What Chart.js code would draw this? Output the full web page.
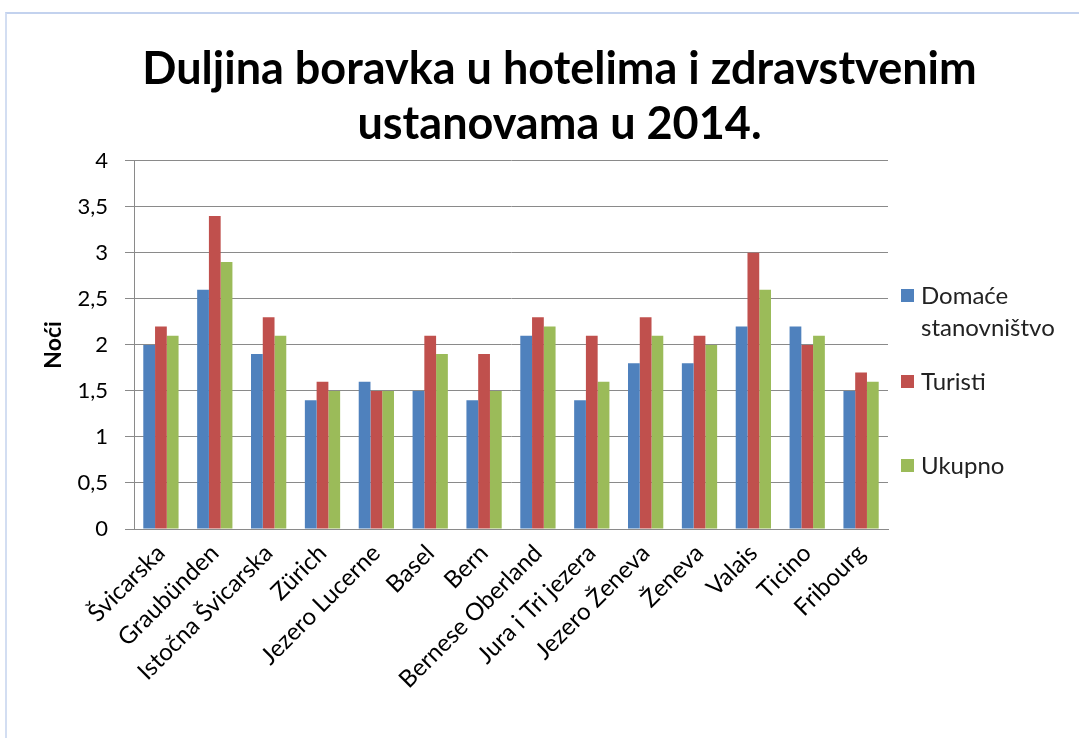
<!DOCTYPE html>
<html>
<head>
<meta charset="utf-8">
<script src="https://cdn.jsdelivr.net/npm/chart.js@4/dist/chart.umd.min.js"></script>
<style>
  body { margin: 0; background: #fff; }
  #wrap { position: relative; width: 1079px; height: 738px; }
  #frame {
    position: absolute; left: 5px; top: 12px; right: 0; bottom: 0;
    border-top: 2px solid #c3d2ee; border-left: 2px solid #d3def2;
  }
  #legend {
    position: absolute; left: 900px; top: 279px; width: 178px;
    font-family: Lato, "Open Sans", sans-serif; font-size: 24px; color: #222;
  }
  .item { position: relative; padding-left: 21px; line-height: 32px; }
  .item span.box { position: absolute; left: 1px; top: 10px; width: 13px; height: 13px; }
</style>
</head>
<body>
<div id="wrap">
  <div id="frame"></div>
  <canvas id="chart" width="1079" height="738"></canvas>
  <div id="legend"></div>
</div>
<script>
const categories = ['Švicarska', 'Graubünden', 'Istočna Švicarska', 'Zürich', 'Jezero Lucerne', 'Basel', 'Bern',
  'Bernese Oberland', 'Jura i Tri jezera', 'Jezero Ženeva', 'Ženeva', 'Valais', 'Ticino', 'Fribourg'];
const domace = [2.0, 2.6, 1.9, 1.4, 1.6, 1.5, 1.4, 2.1, 1.4, 1.8, 1.8, 2.2, 2.2, 1.5];
const turisti = [2.2, 3.4, 2.3, 1.6, 1.5, 2.1, 1.9, 2.3, 2.1, 2.3, 2.1, 3.0, 2.0, 1.7];
const ukupno = [2.1, 2.9, 2.1, 1.5, 1.5, 1.9, 1.5, 2.2, 1.6, 2.1, 2.0, 2.6, 2.1, 1.6];
const seriesNames = ['Domaće stanovništvo', 'Turisti', 'Ukupno'];
const colors = ['#4f81bd', '#c0504d', '#9bbb59'];

const font = 'Lato, "Open Sans", sans-serif';

const ctx = document.getElementById('chart').getContext('2d');
const chart = new Chart(ctx, {
  type: 'bar',
  data: {
    labels: categories,
    datasets: [domace, turisti, ukupno].map((d, i) => ({
      label: seriesNames[i],
      data: d,
      backgroundColor: colors[i],
      categoryPercentage: 0.655,
      barPercentage: 1.0
    }))
  },
  options: {
    responsive: false,
    animation: false,
    devicePixelRatio: 1,
    layout: { padding: { left: 40, right: 0, top: 0, bottom: 0 } },
    plugins: {
      legend: { display: false },
      tooltip: { enabled: false },
      title: {
        display: true,
        text: ['Duljina boravka u hotelima i zdravstvenim', 'ustanovama u 2014.'],
        color: '#000',
        font: { family: font, size: 45, weight: 'bold', lineHeight: 1.22 },
        padding: { top: 42, bottom: 9 }
      }
    },
    scales: {
      x: {
        grid: { display: false, drawTicks: false },
        border: { color: '#8a8a8a', width: 1 },
        ticks: {
          color: '#000', font: { family: font, size: 24 },
          maxRotation: 45, minRotation: 45, autoSkip: false, padding: 10
        },
        afterFit: s => { s.height = 209; }
      },
      y: {
        min: 0, max: 4,
        ticks: {
          stepSize: 0.5, color: '#000', font: { family: font, size: 22 }, padding: 17,
          callback: v => String(v).replace('.', ',')
        },
        grid: { color: '#8a8a8a', tickLength: 9 },
        border: { color: '#8a8a8a', width: 1 },
        title: {
          display: true, text: 'Noći', color: '#000',
          font: { family: font, size: 23, weight: 'bold', lineHeight: 1.2 }, padding: 0
        },
        afterFit: s => { s.width = 94; }
      },
      spacer: {
        position: 'right', display: true,
        grid: { display: false, drawTicks: false },
        border: { display: false },
        ticks: { display: false },
        afterFit: s => { s.width = 191; }
      }
    }
  }
});

// legend built from the datasets
const legend = document.getElementById('legend');
chart.data.datasets.forEach((ds, i) => {
  const item = document.createElement('div');
  item.className = 'item';
  item.style.marginBottom = i === 0 ? '22px' : '52px';
  item.innerHTML = '<span class="box" style="background:' + ds.backgroundColor + '"></span>' +
    ds.label.replace(' ', '<br>');
  legend.appendChild(item);
});
</script>
</body>
</html>
